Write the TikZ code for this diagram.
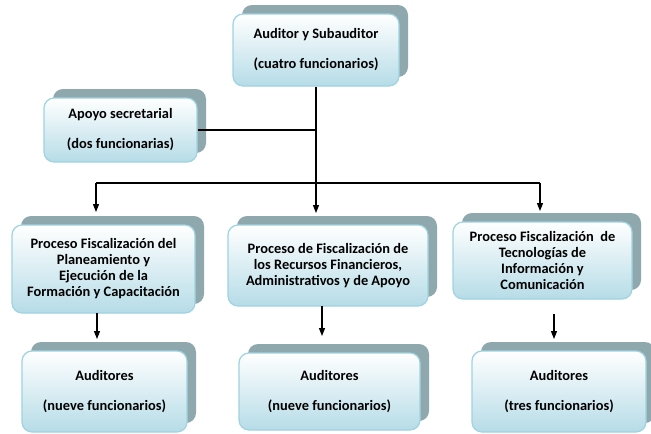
\documentclass[tikz,border=0pt]{standalone}
\usepackage{fontspec}
\setmainfont{Carlito}
\usetikzlibrary{shadows,arrows.meta}
\definecolor{shadowc}{HTML}{8EA8AE}
\definecolor{boxblue}{HTML}{B6DCE7}
\definecolor{borderc}{HTML}{9ED3E0}
\begin{document}
\begin{tikzpicture}[x=1pt,y=1pt,
  orgbox/.style={draw=borderc, line width=1.2pt, rounded corners=10pt,
    top color=white, bottom color=boxblue,
    copy shadow={shadow xshift=9pt, shadow yshift=9pt, fill=shadowc, draw=none},
    align=center, font=\bfseries\fontsize{14.4}{16}\selectfont, inner sep=0pt},
  conn/.style={line width=1.2pt, black},
  arr/.style={conn, -{Triangle[length=8pt,width=6pt]}}]
\useasboundingbox (0,0) rectangle (651,-434);

\node[orgbox, minimum width=166pt, minimum height=72pt] (top) at (316,-50)
  {Auditor y Subauditor\\[14pt](cuatro funcionarios)};
\node[orgbox, minimum width=153pt, minimum height=64pt] (apoyo) at (120.5,-130)
  {Apoyo secretarial\\[14pt](dos funcionarias)};

\node[orgbox, minimum width=183pt, minimum height=88pt] (pl) at (103.5,-269)
  {Proceso Fiscalización del\\Planeamiento y\\Ejecución de la\\Formación y Capacitación};
\node[orgbox, minimum width=200pt, minimum height=81pt] (pm) at (328,-265.5)
  {Proceso de Fiscalización de\\los Recursos Financieros,\\Administrativos y de Apoyo};
\node[orgbox, minimum width=179pt, minimum height=77pt] (pr) at (542.5,-260.5)
  {Proceso Fiscalización\ \ de\\Tecnologías de\\Información y\\Comunicación};

\node[orgbox, minimum width=165pt, minimum height=81pt] (al) at (104.5,-391.5)
  {Auditores\\[14pt](nueve funcionarios)};
\node[orgbox, minimum width=181pt, minimum height=77pt] (am) at (329.5,-391.5)
  {Auditores\\[14pt](nueve funcionarios)};
\node[orgbox, minimum width=174pt, minimum height=81pt] (ar) at (559,-391.5)
  {Auditores\\[14pt](tres funcionarios)};

% junction coordinates
\coordinate (jap) at (316,-130);
\coordinate (hl) at (96,-183);
\coordinate (hr) at (540,-183);
\coordinate (tl) at (96,-212);
\coordinate (tm) at (316,-213);
\coordinate (tr) at (540,-211);
\coordinate (bl0) at (97,-313);
\coordinate (bl1) at (97,-339);
\coordinate (bm0) at (322,-306);
\coordinate (bm1) at (322,-336);
\coordinate (br0) at (554,-314);
\coordinate (br1) at (554,-339);

\draw[conn] (apoyo.east) -- (jap);
\draw[arr] (top.south) -- (tm);
\draw[conn] (hl) -- (hr);
\draw[arr] (hl) -- (tl);
\draw[arr] (hr) -- (tr);
\draw[arr] (bl0) -- (bl1);
\draw[arr] (bm0) -- (bm1);
\draw[arr] (br0) -- (br1);
\end{tikzpicture}
\end{document}
